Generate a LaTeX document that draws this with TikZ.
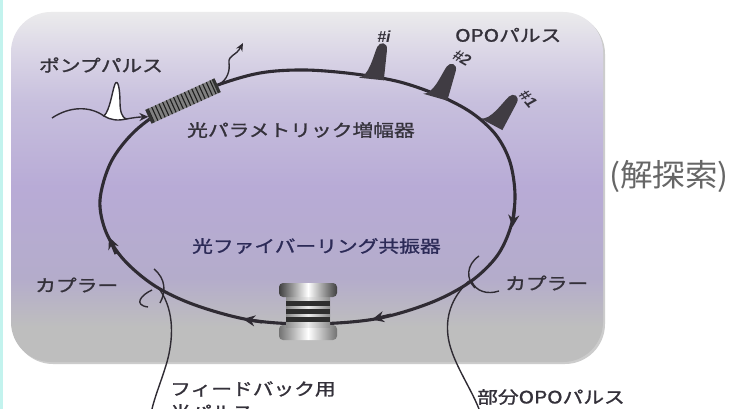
\documentclass[tikz,border=0pt]{standalone}
\usepackage{fontspec}
\usepackage{graphicx}
\newfontfamily\jp[FakeBold=1.2]{Noto Sans CJK JP}
\newfontfamily\jplight{Noto Sans CJK JP}
\setmainfont{Liberation Sans}
\usetikzlibrary{arrows.meta}

\definecolor{ink}{HTML}{2F2B33}
\definecolor{txt}{HTML}{34313A}
\definecolor{bgA}{HTML}{EBEBEC}
\definecolor{bgB}{HTML}{DAD5E6}
\definecolor{bgC}{HTML}{C7BFDD}
\definecolor{bgD}{HTML}{B8ABD6}
\definecolor{bgE}{HTML}{B4ACCB}
\definecolor{bgF}{HTML}{BEBEBE}
\definecolor{edge}{HTML}{C3F3EE}

% vertical background shading: path maps onto 25bp..75bp
\pgfdeclareverticalshading{panelshade}{100bp}{%
  color(0bp)=(bgF); color(25bp)=(bgF); color(30bp)=(bgF);
  color(37bp)=(bgE); color(50bp)=(bgD); color(62bp)=(bgC);
  color(69bp)=(bgB); color(75bp)=(bgA); color(100bp)=(bgA)}

\newcommand\widetxt[1]{\scalebox{1.22}[1]{#1}}

\tikzset{
  ringline/.style={draw=ink, line width=3.1pt},
  fiber/.style={draw=ink, line width=1.4pt},
  ringarrow/.style={draw=ink, line width=3.1pt, -{Stealth[length=12pt,width=11pt]}},
  lbl/.style={font=\jp\fontsize{17}{19}\selectfont, text=txt, inner sep=0pt},
  tag/.style={font=\bfseries\itshape\fontsize{16}{18}\selectfont, text=txt, inner sep=0pt},
  pulsefill/.style={fill=ink!92},
  opopulse/.pic={\fill[pulsefill] (-17,1.5) .. controls (-7,-1) and (-5,-22) .. (-2,-31)
      .. controls (0,-37) and (8,-37) .. (8,-29) -- (8,1.5) -- cycle;}
}

\begin{document}
\begin{tikzpicture}[x=1pt,y=-1pt]
\useasboundingbox (0,0) rectangle (733,409);
\fill[white] (0,0) rectangle (733,409);
\fill[edge] (0,0) rectangle (2.5,409);

% panel with soft shadow
\fill[black!20, rounded corners=40pt] (13,14) rectangle (605,364);
\shade[shading=panelshade, rounded corners=40pt] (11,12) rectangle (603,362);

% fiber ring resonator
\draw[ringline] plot[smooth cycle, tension=0.55] coordinates {
 (100,200) (106,232) (124,260) (155,286) (195,305) (250,320) (310,324)
 (375,319) (430,303) (470,282) (497,256) (511,226) (515,195) (510,162)
 (496,135) (472,113) (440,96) (400,82) (355,74) (305,70) (260,73)
 (215,86) (170,106) (135,131) (111,162)};

% direction arrows on the ring
\coordinate (r1a) at (514.5,208); \coordinate (r1b) at (512.5,227);
\coordinate (r2a) at (391,315);  \coordinate (r2b) at (372,319.5);
\coordinate (r3a) at (262,322);  \coordinate (r3b) at (243,319);
\coordinate (r4a) at (116,254);  \coordinate (r4b) at (109,237);
\draw[ringarrow] (r1a) -- (r1b);
\draw[ringarrow] (r2a) -- (r2b);
\draw[ringarrow] (r3a) -- (r3b);
\draw[ringarrow] (r4a) -- (r4b);

% OPO pulses circulating in the ring
\pic[rotate=-6]  at (376,78)  {opopulse};
\pic[rotate=-16] at (440,97)  {opopulse};
\pic[rotate=-28] at (496,125) {opopulse};
\node[tag] (ti) at (384,37) {\#\textit{i}};
\node[tag, rotate=-30] (t2) at (462,58) {\#2};
\node[tag, rotate=-50] (t1) at (528,99) {\#1};

% optical parametric amplifier (striped crystal)
\begin{scope}[shift={(183,101)}, rotate=24.5]
  \fill[black!50] (-38,-7.5) rectangle (38,7.5);
  \foreach \s in {-35,-31,...,35} \draw[black!88, line width=1.1pt] (\s,-7.5) -- (\s,7.5);
  \fill[black!80] (-38,-7.5) rectangle (-35,7.5);
  \fill[black!80] (35,-7.5) rectangle (38,7.5);
  \coordinate (ampL) at (-38,0);
  \coordinate (ampR) at (38,0);
\end{scope}

% pump pulse injected into the amplifier
\coordinate (pin) at (52,118);
\coordinate (pfoot) at (104,116);
\coordinate (pend) at (126,119);
\draw[fiber] (pin) .. controls (70,106) and (90,106) .. (pfoot);
\filldraw[fiber, fill=white] (pfoot) .. controls (110,110) and (112,92) .. (115,84)
   .. controls (118,78) and (120,90) .. (120,102) .. controls (120,112) and (122,117) .. (pend)
   .. controls (118,121) and (110,120) .. (pfoot) -- cycle;
\draw[fiber, -{Stealth[length=9pt,width=8pt]}] (pend) .. controls (132,118) and (138,117) .. (ampL);

% depleted pump leaving the amplifier
\coordinate (pout) at (243,43);
\draw[fiber, -{Stealth[length=8pt,width=7pt]}] (ampR) .. controls (228,80) and (230,70) .. (229,63)
   .. controls (228,55) and (236,56) .. (pout);

% fiber spool
\begin{scope}
  \shade[left color=black!55, right color=black!55, middle color=white, rounded corners=4pt]
     (279,325) rectangle (337,340);
  \shade[left color=black!45, right color=black!45, middle color=black!8]
     (286,296) rectangle (330,327);
  \foreach \y in {301,309,317} \fill[black!82] (286,\y) rectangle (330,\y+4.5);
  \shade[left color=black!75, right color=black!75, middle color=white, rounded corners=4pt]
     (279,283) rectangle (337,297);
  \node[inner sep=0pt] (spool) at (308,311) {};
\end{scope}

% couplers
\coordinate (cl) at (160,290);
\draw[fiber] (154,269) .. controls (166,279) and (166,292) .. (160,303);
\draw[fiber] (152,290) .. controls (141,295) and (133,305) .. (148,307);
\coordinate (fbend) at (152,409);
\draw[fiber] (cl) .. controls (175,312) and (173,340) .. (167,362)
   .. controls (161,382) and (155,396) .. (fbend);

\coordinate (cr) at (469,281);
\draw[fiber] (479,256) .. controls (466,265) and (466,279) .. (475,288);
\draw[fiber] (472,282) .. controls (476,291) and (487,295) .. (499,291);
\coordinate (outend) at (479,409);
\draw[fiber] (cr) .. controls (455,294) and (445,312) .. (448,336)
   .. controls (451,360) and (470,386) .. (outend);

% labels
\node[lbl, anchor=center] (pump) at (101,65) {\widetxt{ポンプパルス}};
\node[lbl, anchor=west] (opa) at (187,130) {\widetxt{光パラメトリック増幅器}};
\node[lbl, anchor=west] (opo) at (455,35) {\widetxt{OPOパルス}};
\node[lbl, anchor=west, text=txt!85!blue] (ring) at (192,246) {\widetxt{光ファイバーリング共振器}};
\node[lbl, anchor=west] (cpl) at (35,285) {\widetxt{カプラー}};
\node[lbl, anchor=west] (cpr) at (505,283) {\widetxt{カプラー}};
\node[lbl, anchor=west] (fb1) at (170,389) {\widetxt{フィードバック用}};
\node[lbl, anchor=west] (fb2) at (170,412) {\widetxt{光パルス}};
\node[lbl, anchor=west] (part) at (477,397) {\widetxt{部分OPOパルス}};
\node[font=\jplight\fontsize{31}{34}\selectfont, text=black!60, anchor=center, inner sep=0pt] (search) at (669,177) {\scalebox{1.05}[1]{(解探索)}};
\end{tikzpicture}
\end{document}
